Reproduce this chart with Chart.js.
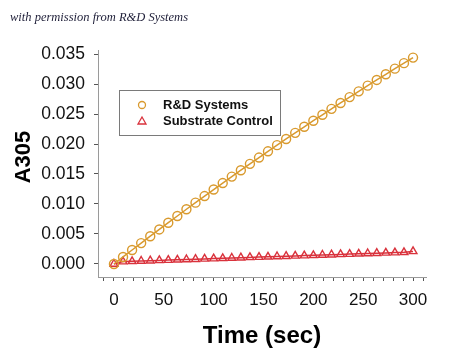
<!DOCTYPE html>
<html>
<head>
<meta charset="utf-8">
<script src="https://cdn.jsdelivr.net/npm/chart.js@4/dist/chart.umd.min.js"></script>
<style>
  html, body { margin: 0; padding: 0; background: #ffffff; }
  #wrap { width: 450px; height: 353px; position: relative; }
</style>
</head>
<body>
<div id="wrap"><canvas id="c" width="450" height="353"></canvas></div>
<script>
// ---- data ----
const timeSec = [0, 9.1, 18.2, 27.3, 36.4, 45.5, 54.5, 63.6, 72.7, 81.8, 90.9, 100, 109.1, 118.2, 127.3, 136.4, 145.5, 154.5, 163.6, 172.7, 181.8, 190.9, 200, 209.1, 218.2, 227.3, 236.4, 245.5, 254.5, 263.6, 272.7, 281.8, 290.9, 300];
const rdSystems = [0.0000, 0.00117, 0.00233, 0.00348, 0.00463, 0.00576, 0.00688, 0.00800, 0.00912, 0.01022, 0.01132, 0.01241, 0.01349, 0.01457, 0.01563, 0.01669, 0.01774, 0.01878, 0.01981, 0.02084, 0.02186, 0.02287, 0.02388, 0.02487, 0.02586, 0.02684, 0.02782, 0.02878, 0.02973, 0.03068, 0.03162, 0.03256, 0.03348, 0.03440];
const substrateControl = [0.0000, 0.00040, 0.00045, 0.00050, 0.00055, 0.00060, 0.00065, 0.00070, 0.00075, 0.00080, 0.00085, 0.00090, 0.00095, 0.00100, 0.00105, 0.00110, 0.00115, 0.00120, 0.00125, 0.00130, 0.00135, 0.00140, 0.00145, 0.00150, 0.00155, 0.00160, 0.00165, 0.00170, 0.00175, 0.00180, 0.00185, 0.00190, 0.00195, 0.00210];
const seriesNames = ['R&D Systems', 'Substrate Control'];
const xTickLabels = [0, 50, 100, 150, 200, 250, 300];
const yTickLabels = [0.000, 0.005, 0.010, 0.015, 0.020, 0.025, 0.030, 0.035];
const xTitle = 'Time (sec)';
const yTitle = 'A305';
const credit = 'with permission from R&D Systems';

const ORANGE = '#D99A2E';
const RED = '#D9323C';

function pts(xs, ys) { return xs.map((x, i) => ({ x: x, y: ys[i] })); }

const overlay = {
  id: 'overlay',
  afterDraw(chart) {
    const ctx = chart.ctx;
    ctx.save();
    // credit line
    ctx.fillStyle = '#1e1e38';
    ctx.font = 'italic 12.5px "Liberation Serif", "DejaVu Serif", serif';
    ctx.textBaseline = 'alphabetic';
    ctx.textAlign = 'left';
    ctx.fillText(credit, 10, 21);
    // y axis title
    ctx.save();
    ctx.translate(24, 157);
    ctx.rotate(-Math.PI / 2);
    ctx.fillStyle = '#000';
    ctx.font = 'bold 22px "Liberation Sans", Arial, sans-serif';
    ctx.textAlign = 'center';
    ctx.textBaseline = 'middle';
    ctx.fillText(yTitle, 0, 0);
    ctx.restore();
    // legend box
    ctx.strokeStyle = '#7a7a7a';
    ctx.lineWidth = 1;
    ctx.strokeRect(119.5, 90.5, 161, 45);
    const rows = [
      { name: seriesNames[0], color: ORANGE, shape: 'circle', y: 105 },
      { name: seriesNames[1], color: RED, shape: 'triangle', y: 121 }
    ];
    rows.forEach(r => {
      ctx.strokeStyle = r.color;
      ctx.lineWidth = 1.3;
      ctx.beginPath();
      if (r.shape === 'circle') {
        ctx.arc(142, r.y, 3.5, 0, Math.PI * 2);
      } else {
        ctx.moveTo(142, r.y - 4);
        ctx.lineTo(146, r.y + 3);
        ctx.lineTo(138, r.y + 3);
        ctx.closePath();
      }
      ctx.stroke();
      ctx.fillStyle = '#111';
      ctx.font = 'bold 13px "Liberation Sans", Arial, sans-serif';
      ctx.textAlign = 'left';
      ctx.textBaseline = 'middle';
      ctx.fillText(r.name, 163, r.y);
    });
    ctx.restore();
  }
};

new Chart(document.getElementById('c'), {
  type: 'scatter',
  data: {
    datasets: [
      {
        label: seriesNames[0],
        data: pts(timeSec, rdSystems),
        showLine: true,
        borderColor: ORANGE,
        borderWidth: 1.5,
        backgroundColor: 'rgba(0,0,0,0)',
        pointStyle: 'circle',
        pointRadius: 4.5,
        pointBorderWidth: 1.4,
        pointBorderColor: ORANGE,
        pointBackgroundColor: 'rgba(0,0,0,0)'
      },
      {
        label: seriesNames[1],
        data: pts(timeSec, substrateControl),
        showLine: true,
        borderColor: RED,
        borderWidth: 1.5,
        backgroundColor: 'rgba(0,0,0,0)',
        pointStyle: 'triangle',
        pointRadius: 4.5,
        pointBorderWidth: 1.4,
        pointBorderColor: RED,
        pointBackgroundColor: 'rgba(0,0,0,0)'
      }
    ]
  },
  options: {
    responsive: false,
    animation: false,
    layout: { padding: { top: 50, right: 24, bottom: 0, left: 0 } },
    plugins: { legend: { display: false }, tooltip: { enabled: false } },
    scales: {
      x: {
        type: 'linear',
        min: -16,
        max: 313,
        afterFit(s) { s.height = 76; },
        border: { display: true, color: '#9a9a9a', width: 1 },
        grid: { drawOnChartArea: false, drawTicks: true, tickLength: 4, color: '#555' },
        ticks: {
          stepSize: 10,
          includeBounds: false,
          autoSkip: false,
          maxRotation: 0,
          padding: 9,
          color: '#111',
          font: { family: '"Liberation Sans", Arial, sans-serif', size: 17 },
          callback(v) { return xTickLabels.includes(v) ? String(v) : ''; }
        },
        title: {
          display: true,
          text: xTitle,
          color: '#000',
          font: { family: '"Liberation Sans", Arial, sans-serif', size: 24, weight: 'bold' },
          padding: { top: 0, bottom: 2 }
        }
      },
      y: {
        type: 'linear',
        min: -0.00217,
        max: 0.03567,
        afterFit(s) { s.width = 98; },
        border: { display: true, color: '#9a9a9a', width: 1 },
        grid: { drawOnChartArea: false, drawTicks: true, tickLength: 4, color: '#555' },
        ticks: {
          stepSize: 0.005,
          includeBounds: false,
          autoSkip: false,
          padding: 9,
          color: '#111',
          font: { family: '"Liberation Sans", Arial, sans-serif', size: 17.5 },
          callback(v) {
            const r = Math.round(v * 1000) / 1000;
            return yTickLabels.some(t => Math.abs(t - r) < 1e-9) ? r.toFixed(3) : '';
          }
        },
        title: { display: false }
      }
    }
  },
  plugins: [overlay]
});
</script>
</body>
</html>
